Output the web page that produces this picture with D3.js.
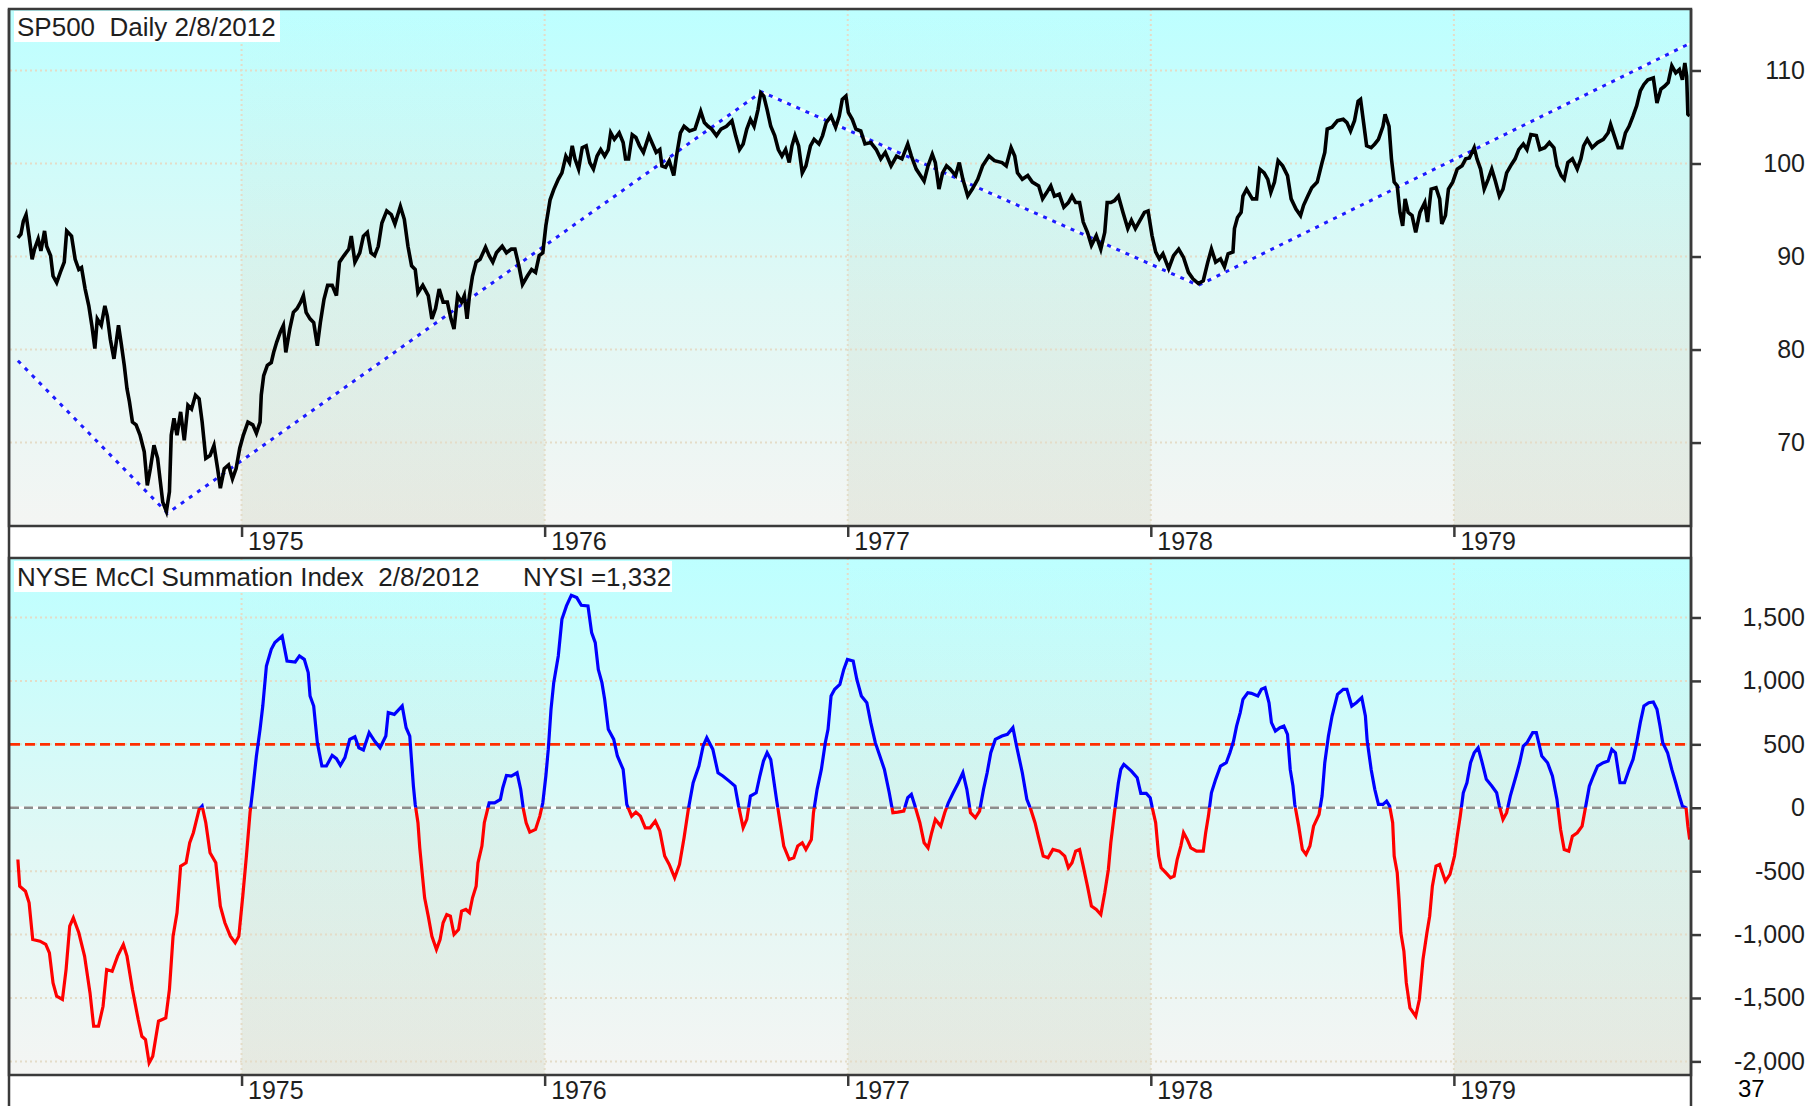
<!DOCTYPE html>
<html>
<head>
<meta charset="utf-8">
<script src="https://cdn.jsdelivr.net/npm/d3@7"></script>
<style>
  body { margin: 0; background: #fff; }
  svg { display: block; font-family: "Liberation Sans", Arial, sans-serif; }
</style>
</head>
<body>
<div id="chart"></div>
<script>
// ---- data (x = decimal year) ----
const yearTicks = [1975, 1976, 1977, 1978, 1979];
const priceTicks = [70, 80, 90, 100, 110];
const nysiTicks = [-2000, -1500, -1000, -500, 0, 500, 1000, 1500];
const shadedYears = [[1975, 1976], [1977, 1978], [1979, 1980]];
const zeroLevel = 0;
const upperLevel = 500;
const priceTitle = "SP500  Daily 2/8/2012";
const nysiTitle = "NYSE McCl Summation Index  2/8/2012";
const nysiReading = "NYSI =1,332";
const pageNumber = "37";

const sp500 = [
  [1974.262, 92.0], [1974.272, 92.4], [1974.280, 93.8], [1974.289, 94.5], [1974.299, 92.2],
  [1974.309, 89.7], [1974.317, 90.8], [1974.329, 91.9], [1974.338, 90.6], [1974.350, 92.75],
  [1974.357, 91.1], [1974.370, 90.1], [1974.378, 87.9], [1974.390, 87.2], [1974.402, 88.3],
  [1974.415, 89.4], [1974.423, 92.75], [1974.439, 92.2], [1974.451, 89.7], [1974.463, 88.6],
  [1974.472, 88.8], [1974.484, 86.5], [1974.496, 84.7], [1974.506, 82.6], [1974.516, 80.1],
  [1974.524, 83.3], [1974.537, 82.6], [1974.549, 84.7], [1974.557, 83.6], [1974.567, 81.1],
  [1974.579, 79.0], [1974.594, 82.6], [1974.604, 80.4], [1974.613, 78.3], [1974.622, 75.8],
  [1974.630, 74.4], [1974.640, 72.2], [1974.652, 71.9], [1974.665, 70.8], [1974.679, 69.0],
  [1974.689, 65.4], [1974.699, 67.2], [1974.711, 69.7], [1974.723, 68.3], [1974.732, 65.8],
  [1974.740, 63.6], [1974.752, 62.6], [1974.762, 64.7], [1974.768, 70.8], [1974.777, 72.6],
  [1974.787, 70.8], [1974.799, 73.3], [1974.811, 70.25], [1974.823, 74.0], [1974.835, 73.6],
  [1974.848, 75.1], [1974.860, 74.7], [1974.870, 72.2], [1974.882, 68.3], [1974.896, 68.6],
  [1974.909, 69.7], [1974.921, 67.2], [1974.930, 65.1], [1974.943, 67.2], [1974.957, 67.6],
  [1974.970, 66.1], [1974.982, 67.2], [1974.994, 69.4], [1975.006, 70.8], [1975.021, 72.2],
  [1975.037, 71.9], [1975.049, 71.0], [1975.061, 72.2], [1975.065, 75.1], [1975.073, 77.2],
  [1975.085, 78.3], [1975.098, 78.6], [1975.106, 79.7], [1975.116, 80.8], [1975.128, 81.9],
  [1975.138, 82.6], [1975.146, 79.7], [1975.159, 82.2], [1975.171, 84.0], [1975.183, 84.4],
  [1975.195, 85.1], [1975.204, 85.8], [1975.213, 84.0], [1975.226, 83.3], [1975.238, 82.9],
  [1975.250, 80.4], [1975.260, 82.9], [1975.272, 85.4], [1975.284, 86.9], [1975.299, 86.9],
  [1975.313, 85.8], [1975.323, 89.4], [1975.338, 90.1], [1975.354, 90.8], [1975.362, 92.2],
  [1975.374, 89.4], [1975.390, 90.4], [1975.402, 92.2], [1975.415, 92.6], [1975.427, 90.4],
  [1975.439, 90.1], [1975.451, 91.1], [1975.463, 93.6], [1975.479, 94.9], [1975.494, 94.5],
  [1975.506, 93.5], [1975.524, 95.4], [1975.537, 94.0], [1975.549, 91.1], [1975.561, 89.0],
  [1975.573, 88.6], [1975.582, 86.1], [1975.598, 86.9], [1975.616, 85.8], [1975.628, 83.3],
  [1975.640, 84.4], [1975.652, 86.5], [1975.665, 85.1], [1975.679, 85.1], [1975.691, 83.3],
  [1975.701, 82.2], [1975.713, 85.8], [1975.726, 85.1], [1975.735, 85.8], [1975.744, 83.3],
  [1975.752, 85.8], [1975.762, 87.9], [1975.774, 89.4], [1975.787, 89.7], [1975.805, 91.0],
  [1975.817, 90.1], [1975.829, 89.4], [1975.841, 90.4], [1975.860, 91.1], [1975.874, 90.4],
  [1975.890, 90.8], [1975.902, 90.8], [1975.915, 89.0], [1975.927, 87.0], [1975.943, 87.9],
  [1975.957, 88.6], [1975.970, 88.3], [1975.982, 90.1], [1975.994, 90.4], [1976.004, 93.3],
  [1976.018, 96.1], [1976.030, 97.2], [1976.045, 98.3], [1976.057, 99.0], [1976.070, 100.8],
  [1976.082, 100.1], [1976.091, 101.9], [1976.100, 100.5], [1976.112, 99.4], [1976.124, 101.7],
  [1976.137, 101.9], [1976.149, 100.1], [1976.161, 99.4], [1976.173, 100.8], [1976.185, 101.5],
  [1976.198, 100.8], [1976.210, 101.5], [1976.218, 103.3], [1976.230, 102.6], [1976.246, 103.3],
  [1976.259, 102.25], [1976.267, 100.5], [1976.277, 100.5], [1976.289, 103.1], [1976.301, 102.8],
  [1976.313, 101.9], [1976.326, 101.2], [1976.344, 103.0], [1976.356, 102.1], [1976.368, 101.2],
  [1976.380, 101.5], [1976.387, 99.75], [1976.399, 99.6], [1976.411, 100.3], [1976.426, 98.7],
  [1976.435, 100.8], [1976.448, 103.3], [1976.460, 104.0], [1976.478, 103.5], [1976.496, 103.7],
  [1976.515, 105.6], [1976.527, 104.4], [1976.539, 104.0], [1976.551, 103.7], [1976.567, 103.0],
  [1976.582, 103.7], [1976.600, 104.0], [1976.618, 104.6], [1976.630, 103.0], [1976.643, 101.5],
  [1976.655, 102.1], [1976.667, 103.7], [1976.679, 104.75], [1976.691, 104.0], [1976.704, 105.8],
  [1976.713, 107.6], [1976.723, 107.25], [1976.734, 105.8], [1976.746, 104.0], [1976.759, 103.0],
  [1976.771, 101.5], [1976.783, 100.8], [1976.795, 101.5], [1976.807, 100.1], [1976.816, 101.9],
  [1976.826, 103.0], [1976.838, 101.9], [1976.850, 99.0], [1976.862, 99.75], [1976.877, 101.9],
  [1976.889, 102.6], [1976.905, 102.1], [1976.917, 103.0], [1976.929, 104.4], [1976.945, 105.1],
  [1976.960, 103.9], [1976.972, 105.1], [1976.982, 106.9], [1976.994, 107.25], [1977.002, 105.5],
  [1977.015, 104.75], [1977.027, 103.7], [1977.043, 103.5], [1977.057, 102.1], [1977.076, 102.25],
  [1977.094, 101.5], [1977.109, 100.5], [1977.124, 101.2], [1977.143, 99.75], [1977.161, 100.8],
  [1977.179, 100.5], [1977.198, 102.1], [1977.210, 100.8], [1977.226, 99.4], [1977.240, 98.7],
  [1977.252, 98.1], [1977.265, 99.75], [1977.279, 101.0], [1977.289, 100.1], [1977.301, 97.25],
  [1977.313, 99.0], [1977.326, 99.75], [1977.338, 99.4], [1977.356, 98.7], [1977.368, 100.1],
  [1977.380, 98.3], [1977.396, 96.5], [1977.411, 97.25], [1977.429, 98.3], [1977.445, 99.75],
  [1977.466, 100.8], [1977.484, 100.3], [1977.509, 100.1], [1977.523, 99.75], [1977.539, 101.7],
  [1977.551, 100.8], [1977.560, 99.0], [1977.576, 98.3], [1977.594, 98.7], [1977.609, 98.0],
  [1977.630, 97.6], [1977.643, 96.2], [1977.657, 96.9], [1977.670, 97.6], [1977.682, 96.5],
  [1977.698, 96.7], [1977.713, 95.3], [1977.728, 95.8], [1977.740, 96.5], [1977.752, 95.8],
  [1977.765, 95.8], [1977.777, 93.7], [1977.791, 92.6], [1977.804, 91.2], [1977.820, 92.25],
  [1977.835, 90.8], [1977.848, 92.6], [1977.856, 95.8], [1977.868, 95.8], [1977.880, 96.0],
  [1977.893, 96.5], [1977.908, 94.75], [1977.924, 93.0], [1977.936, 93.9], [1977.949, 93.0],
  [1977.961, 93.7], [1977.979, 94.75], [1977.991, 94.9], [1978.004, 92.25], [1978.016, 90.5],
  [1978.028, 89.75], [1978.040, 90.3], [1978.059, 88.7], [1978.075, 90.1], [1978.092, 90.8],
  [1978.108, 89.9], [1978.124, 88.3], [1978.139, 87.6], [1978.157, 87.1], [1978.173, 87.4],
  [1978.188, 89.4], [1978.200, 90.8], [1978.214, 89.4], [1978.230, 89.75], [1978.243, 88.9],
  [1978.255, 90.3], [1978.271, 90.5], [1978.276, 93.0], [1978.286, 94.2], [1978.298, 94.75],
  [1978.304, 96.5], [1978.316, 97.25], [1978.335, 96.2], [1978.349, 96.2], [1978.359, 99.4],
  [1978.374, 99.0], [1978.386, 98.3], [1978.396, 96.9], [1978.408, 98.0], [1978.420, 100.3],
  [1978.435, 99.75], [1978.451, 98.7], [1978.463, 96.2], [1978.479, 95.1], [1978.494, 94.4],
  [1978.504, 95.5], [1978.518, 96.5], [1978.531, 97.4], [1978.549, 98.0], [1978.565, 100.1],
  [1978.574, 101.2], [1978.582, 103.7], [1978.598, 103.9], [1978.616, 104.6], [1978.635, 104.75],
  [1978.647, 104.4], [1978.659, 103.5], [1978.672, 104.6], [1978.684, 106.7], [1978.692, 106.9],
  [1978.702, 104.4], [1978.712, 101.9], [1978.727, 101.7], [1978.739, 102.1], [1978.751, 102.6],
  [1978.766, 104.0], [1978.773, 105.3], [1978.786, 104.0], [1978.794, 100.5], [1978.803, 98.0],
  [1978.813, 97.6], [1978.822, 94.75], [1978.831, 93.3], [1978.839, 96.2], [1978.849, 94.75],
  [1978.862, 94.4], [1978.874, 92.6], [1978.888, 94.75], [1978.904, 95.8], [1978.913, 93.7],
  [1978.925, 97.25], [1978.941, 97.4], [1978.953, 96.2], [1978.960, 93.5], [1978.972, 94.4],
  [1978.982, 97.25], [1978.996, 98.0], [1979.011, 99.4], [1979.027, 99.75], [1979.039, 100.5],
  [1979.051, 100.6], [1979.067, 101.7], [1979.076, 100.5], [1979.088, 99.4], [1979.100, 97.25],
  [1979.113, 98.3], [1979.125, 99.4], [1979.137, 98.1], [1979.150, 96.5], [1979.162, 97.25],
  [1979.174, 99.0], [1979.190, 99.9], [1979.202, 100.5], [1979.214, 101.5], [1979.229, 102.1],
  [1979.241, 101.5], [1979.254, 103.1], [1979.272, 103.0], [1979.284, 101.5], [1979.300, 101.7],
  [1979.315, 102.25], [1979.330, 101.7], [1979.340, 99.75], [1979.354, 98.7], [1979.364, 98.3],
  [1979.376, 100.1], [1979.391, 100.5], [1979.407, 99.4], [1979.419, 100.5], [1979.428, 101.9],
  [1979.440, 102.6], [1979.456, 101.7], [1979.474, 102.25], [1979.493, 102.6], [1979.509, 103.3],
  [1979.517, 104.2], [1979.529, 103.0], [1979.542, 101.7], [1979.554, 101.7], [1979.566, 103.3],
  [1979.578, 104.0], [1979.591, 105.1], [1979.603, 106.2], [1979.615, 107.8], [1979.627, 108.5],
  [1979.640, 109.0], [1979.658, 109.2], [1979.670, 106.5], [1979.683, 108.0], [1979.695, 108.3],
  [1979.707, 108.7], [1979.719, 110.5], [1979.732, 109.75], [1979.744, 110.1], [1979.754, 109.0],
  [1979.762, 110.8], [1979.768, 109.4], [1979.772, 105.3], [1979.778, 105.1]
];

const trendLine = [
  [1974.262, 78.8], [1974.756, 62.4], [1976.716, 107.7], [1978.157, 86.9], [1979.778, 112.9]
];

const nysi = [
  [1974.262, -408], [1974.268, -618], [1974.287, -658], [1974.299, -750], [1974.311, -1039],
  [1974.335, -1052], [1974.354, -1078], [1974.366, -1144], [1974.378, -1381], [1974.390, -1486],
  [1974.409, -1512], [1974.421, -1276], [1974.433, -934], [1974.445, -868], [1974.463, -986],
  [1974.482, -1170], [1974.500, -1460], [1974.512, -1723], [1974.528, -1723], [1974.543, -1565],
  [1974.555, -1276], [1974.573, -1289], [1974.591, -1170], [1974.610, -1078], [1974.622, -1170],
  [1974.640, -1433], [1974.659, -1670], [1974.671, -1802], [1974.683, -1828], [1974.695, -2012],
  [1974.707, -1960], [1974.726, -1683], [1974.750, -1657], [1974.762, -1433], [1974.774, -1013],
  [1974.787, -828], [1974.799, -460], [1974.817, -434], [1974.829, -276], [1974.841, -197],
  [1974.860, -13], [1974.870, 13], [1974.882, -118], [1974.896, -355], [1974.915, -434],
  [1974.930, -776], [1974.945, -907], [1974.963, -1013], [1974.979, -1065], [1974.991, -1013],
  [1975.004, -697], [1975.016, -381], [1975.028, -39], [1975.037, 145], [1975.049, 408],
  [1975.061, 618], [1975.070, 802], [1975.082, 1118], [1975.098, 1249], [1975.110, 1302],
  [1975.134, 1354], [1975.150, 1157], [1975.177, 1149], [1975.191, 1197], [1975.207, 1170],
  [1975.220, 1065], [1975.226, 881], [1975.238, 802], [1975.250, 513], [1975.265, 329],
  [1975.280, 329], [1975.299, 413], [1975.313, 387], [1975.326, 334], [1975.341, 395],
  [1975.357, 539], [1975.374, 560], [1975.387, 473], [1975.402, 455], [1975.421, 592],
  [1975.439, 526], [1975.457, 473], [1975.476, 565], [1975.484, 750], [1975.504, 736],
  [1975.518, 771], [1975.530, 802], [1975.543, 631], [1975.555, 565], [1975.567, 171],
  [1975.573, 26], [1975.582, -118], [1975.588, -316], [1975.598, -565], [1975.604, -710],
  [1975.616, -855], [1975.628, -1013], [1975.643, -1118], [1975.655, -1039], [1975.665, -907],
  [1975.677, -842], [1975.689, -855], [1975.701, -999], [1975.716, -960], [1975.726, -815],
  [1975.740, -802], [1975.752, -828], [1975.762, -710], [1975.774, -618], [1975.780, -434],
  [1975.793, -302], [1975.801, -118], [1975.817, 39], [1975.835, 39], [1975.854, 66],
  [1975.862, 158], [1975.874, 255], [1975.890, 250], [1975.909, 276], [1975.921, 145],
  [1975.930, -13], [1975.939, -118], [1975.951, -192], [1975.970, -171], [1975.984, -66],
  [1975.994, 39], [1976.004, 250], [1976.012, 460], [1976.021, 776], [1976.030, 986],
  [1976.045, 1197], [1976.057, 1486], [1976.072, 1591], [1976.088, 1675], [1976.106, 1657],
  [1976.121, 1596], [1976.143, 1591], [1976.155, 1381], [1976.167, 1302], [1976.177, 1091],
  [1976.189, 986], [1976.198, 855], [1976.210, 618], [1976.228, 539], [1976.240, 408],
  [1976.259, 302], [1976.271, 26], [1976.287, -66], [1976.301, -34], [1976.316, -66],
  [1976.332, -158], [1976.348, -158], [1976.365, -105], [1976.380, -184], [1976.396, -381],
  [1976.411, -447], [1976.429, -552], [1976.445, -447], [1976.460, -237], [1976.474, -13],
  [1976.490, 197], [1976.509, 329], [1976.523, 487], [1976.535, 552], [1976.555, 460],
  [1976.572, 276], [1976.588, 250], [1976.609, 210], [1976.628, 171], [1976.640, 13],
  [1976.655, -158], [1976.667, -92], [1976.679, 92], [1976.698, 118], [1976.710, 250],
  [1976.722, 368], [1976.734, 434], [1976.746, 381], [1976.765, 66], [1976.777, -118],
  [1976.789, -302], [1976.807, -408], [1976.822, -395], [1976.835, -302], [1976.850, -276],
  [1976.862, -329], [1976.880, -250], [1976.887, -39], [1976.899, 145], [1976.913, 302],
  [1976.926, 513], [1976.935, 618], [1976.945, 881], [1976.957, 934], [1976.974, 973],
  [1976.987, 1091], [1976.999, 1170], [1977.018, 1157], [1977.030, 1013], [1977.045, 881],
  [1977.063, 828], [1977.076, 671], [1977.091, 513], [1977.106, 408], [1977.121, 302],
  [1977.137, 118], [1977.149, -39], [1977.165, -34], [1977.185, -26], [1977.198, 79],
  [1977.210, 105], [1977.222, 13], [1977.238, -118], [1977.252, -276], [1977.265, -316],
  [1977.277, -197], [1977.289, -92], [1977.307, -145], [1977.320, -39], [1977.332, 39],
  [1977.348, 118], [1977.365, 197], [1977.380, 276], [1977.393, 145], [1977.405, -39],
  [1977.421, -79], [1977.435, -26], [1977.448, 145], [1977.460, 276], [1977.472, 434],
  [1977.487, 539], [1977.509, 565], [1977.527, 579], [1977.545, 631], [1977.557, 487],
  [1977.576, 276], [1977.591, 66], [1977.604, -13], [1977.618, -118], [1977.630, -237],
  [1977.645, -381], [1977.661, -395], [1977.677, -329], [1977.698, -342], [1977.716, -381],
  [1977.728, -473], [1977.740, -434], [1977.752, -342], [1977.765, -329], [1977.777, -460],
  [1977.791, -618], [1977.804, -776], [1977.820, -802], [1977.835, -842], [1977.848, -671],
  [1977.860, -487], [1977.868, -276], [1977.880, -39], [1977.893, 197], [1977.901, 302],
  [1977.911, 342], [1977.936, 289], [1977.955, 237], [1977.967, 113], [1977.985, 113],
  [1977.998, 79], [1978.006, -13], [1978.016, -118], [1978.026, -381], [1978.034, -473],
  [1978.050, -513], [1978.065, -552], [1978.077, -539], [1978.087, -408], [1978.099, -302],
  [1978.108, -197], [1978.120, -250], [1978.132, -316], [1978.151, -342], [1978.173, -342],
  [1978.181, -197], [1978.190, -66], [1978.200, 118], [1978.214, 224], [1978.230, 329],
  [1978.249, 355], [1978.261, 434], [1978.273, 526], [1978.283, 644], [1978.295, 750],
  [1978.304, 855], [1978.320, 907], [1978.332, 902], [1978.353, 881], [1978.365, 934],
  [1978.377, 947], [1978.390, 828], [1978.398, 671], [1978.411, 605], [1978.426, 631],
  [1978.439, 644], [1978.451, 579], [1978.460, 302], [1978.469, 171], [1978.475, 26],
  [1978.488, -145], [1978.500, -329], [1978.512, -368], [1978.525, -302], [1978.537, -145],
  [1978.555, -53], [1978.565, 92], [1978.574, 355], [1978.586, 565], [1978.598, 723],
  [1978.616, 894], [1978.635, 934], [1978.647, 934], [1978.663, 802], [1978.678, 828],
  [1978.696, 868], [1978.708, 723], [1978.714, 526], [1978.727, 302], [1978.739, 145],
  [1978.751, 26], [1978.766, 26], [1978.778, 52], [1978.788, 13], [1978.798, -118],
  [1978.803, -381], [1978.813, -513], [1978.819, -723], [1978.825, -986], [1978.835, -1131],
  [1978.843, -1381], [1978.855, -1578], [1978.874, -1644], [1978.886, -1512], [1978.898, -1197],
  [1978.911, -986], [1978.920, -855], [1978.929, -618], [1978.941, -460], [1978.953, -447],
  [1978.972, -579], [1978.987, -526], [1979.002, -381], [1979.011, -224], [1979.021, -66],
  [1979.031, 118], [1979.043, 197], [1979.055, 355], [1979.067, 434], [1979.080, 473],
  [1979.092, 368], [1979.107, 224], [1979.125, 171], [1979.141, 118], [1979.150, 13],
  [1979.162, -92], [1979.174, -39], [1979.186, 92], [1979.205, 250], [1979.217, 355],
  [1979.229, 487], [1979.241, 513], [1979.260, 592], [1979.272, 592], [1979.290, 408],
  [1979.309, 355], [1979.325, 250], [1979.340, 66], [1979.352, -171], [1979.364, -329],
  [1979.379, -342], [1979.391, -224], [1979.407, -197], [1979.423, -145], [1979.435, 13],
  [1979.447, 171], [1979.460, 250], [1979.474, 329], [1979.493, 355], [1979.509, 368],
  [1979.521, 460], [1979.533, 434], [1979.548, 197], [1979.563, 197], [1979.578, 302],
  [1979.591, 381], [1979.603, 513], [1979.615, 671], [1979.627, 802], [1979.643, 828],
  [1979.658, 834], [1979.670, 776], [1979.680, 644], [1979.689, 513], [1979.705, 434],
  [1979.719, 302], [1979.732, 197], [1979.744, 92], [1979.754, 13], [1979.766, 0],
  [1979.772, -145], [1979.778, -250]
];

// ---- layout ----
const width = 1812, height = 1106;
const plotLeft = 10, plotRight = 1690;
const topPanel = { y0: 9, y1: 526 };
const botPanel = { y0: 558, y1: 1075 };

const svg = d3.select("#chart").append("svg")
    .attr("width", width)
    .attr("height", height);

const defs = svg.append("defs");

const bg = defs.append("linearGradient").attr("id", "bg")
    .attr("x1", 0).attr("y1", 0).attr("x2", 0).attr("y2", 1);
bg.append("stop").attr("offset", "0%").attr("stop-color", "#bdffff");
bg.append("stop").attr("offset", "55%").attr("stop-color", "#e0f8f5");
bg.append("stop").attr("offset", "100%").attr("stop-color", "#f4f5f3");

const band = defs.append("linearGradient").attr("id", "band")
    .attr("x1", 0).attr("y1", 0).attr("x2", 0).attr("y2", 1);
band.append("stop").attr("offset", "0%").attr("stop-color", "#7b8a50").attr("stop-opacity", 0.0);
band.append("stop").attr("offset", "100%").attr("stop-color", "#7b8a50").attr("stop-opacity", 0.11);

const x = d3.scaleLinear()
    .domain([1974.236, 1979.779])
    .range([plotLeft, plotRight]);

const yPrice = d3.scaleLinear()
    .domain([61.03, 116.61])
    .range([topPanel.y1, topPanel.y0]);

const yNysi = d3.scaleLinear()
    .domain([-2107.2, 1969.1])
    .range([botPanel.y1, botPanel.y0]);

const fmt = d3.format(",");
const plainFormat = d => fmt(d).replace("\u2212", "-");

function drawFrame(panel, yScale, ticks, id) {
    const g = svg.append("g");
    g.append("rect")
        .attr("x", plotLeft).attr("y", panel.y0)
        .attr("width", plotRight - plotLeft).attr("height", panel.y1 - panel.y0)
        .attr("fill", "url(#bg)");

    g.selectAll(".band").data(shadedYears).enter().append("rect")
        .attr("x", d => x(d[0]))
        .attr("y", panel.y0)
        .attr("width", d => Math.min(x(d[1]), plotRight) - x(d[0]))
        .attr("height", panel.y1 - panel.y0)
        .attr("fill", "url(#band)");

    // dotted grid
    g.selectAll(".hg").data(ticks).enter().append("line")
        .attr("x1", plotLeft).attr("x2", plotRight)
        .attr("y1", d => yScale(d)).attr("y2", d => yScale(d))
        .attr("stroke", "#e4dcc8").attr("stroke-width", 2)
        .attr("stroke-dasharray", "2,3");
    g.selectAll(".vg").data(yearTicks).enter().append("line")
        .attr("x1", d => x(d)).attr("x2", d => x(d))
        .attr("y1", panel.y0).attr("y2", panel.y1)
        .attr("stroke", "#e4dcc8").attr("stroke-width", 2)
        .attr("stroke-dasharray", "2,3");

    defs.append("clipPath").attr("id", id)
        .append("rect")
        .attr("x", plotLeft).attr("y", panel.y0)
        .attr("width", plotRight - plotLeft).attr("height", panel.y1 - panel.y0);
    return g;
}

function drawAxes(panel, yScale, ticks) {
    const yAxis = d3.axisRight(yScale)
        .tickValues(ticks)
        .tickSize(10)
        .tickFormat(plainFormat);
    const ga = svg.append("g")
        .attr("transform", `translate(${plotRight + 1},0)`)
        .call(yAxis);
    ga.select(".domain").remove();
    ga.selectAll(".tick line").attr("stroke", "#3a3a3a").attr("stroke-width", 2.5);
    ga.selectAll(".tick text")
        .attr("x", 114)
        .attr("text-anchor", "end")
        .attr("fill", "#1e1e1e")
        .style("font-size", "25px");

    const xAxis = d3.axisBottom(x)
        .tickValues(yearTicks)
        .tickSize(11)
        .tickFormat(d3.format("d"));
    const gx = svg.append("g")
        .attr("transform", `translate(0,${panel.y1})`)
        .call(xAxis);
    gx.select(".domain").remove();
    gx.selectAll(".tick line").attr("stroke", "#3a3a3a").attr("stroke-width", 2.5);
    gx.selectAll(".tick text")
        .attr("x", 6)
        .attr("y", 24)
        .attr("dy", null)
        .attr("text-anchor", "start")
        .attr("fill", "#1e1e1e")
        .style("font-size", "25px");
}

function drawBorder(panel) {
    svg.append("rect")
        .attr("x", plotLeft - 1).attr("y", panel.y0)
        .attr("width", plotRight - plotLeft + 2).attr("height", panel.y1 - panel.y0)
        .attr("fill", "none").attr("stroke", "#3a3a3a").attr("stroke-width", 2.5);
}

function labelBox(xPos, yTop, w, texts) {
    svg.append("rect")
        .attr("x", xPos).attr("y", yTop)
        .attr("width", w).attr("height", 31)
        .attr("fill", "#ffffff");
    texts.forEach(t => {
        svg.append("text")
            .attr("x", t.x).attr("y", yTop + 25)
            .attr("fill", "#1e1e1e")
            .attr("xml:space", "preserve")
            .style("white-space", "pre")
            .style("font-size", "26px")
            .text(t.text);
    });
}

// ---- top panel: SP500 ----
drawFrame(topPanel, yPrice, priceTicks, "clipTop");

const priceLine = d3.line().x(d => x(d[0])).y(d => yPrice(d[1]));

const gTop = svg.append("g").attr("clip-path", "url(#clipTop)");
gTop.append("path").datum(trendLine)
    .attr("d", priceLine)
    .attr("fill", "none").attr("stroke", "#ffffff").attr("stroke-width", 2);
gTop.append("path").datum(trendLine)
    .attr("d", priceLine)
    .attr("fill", "none").attr("stroke", "#1c1cff").attr("stroke-width", 3)
    .attr("stroke-dasharray", "4,6");
gTop.append("path").datum(sp500)
    .attr("d", priceLine)
    .attr("fill", "none").attr("stroke", "#000000").attr("stroke-width", 3.6)
    .attr("stroke-linejoin", "miter");

drawBorder(topPanel);
drawAxes(topPanel, yPrice, priceTicks);
labelBox(14, 11, 266, [{ x: 17, text: priceTitle }]);

// ---- bottom panel: NYSI ----
drawFrame(botPanel, yNysi, nysiTicks, "clipBot");

defs.append("clipPath").attr("id", "clipPos").append("rect")
    .attr("x", plotLeft).attr("y", botPanel.y0)
    .attr("width", plotRight - plotLeft).attr("height", yNysi(zeroLevel) - botPanel.y0);
defs.append("clipPath").attr("id", "clipNeg").append("rect")
    .attr("x", plotLeft).attr("y", yNysi(zeroLevel))
    .attr("width", plotRight - plotLeft).attr("height", botPanel.y1 - yNysi(zeroLevel));

const gBot = svg.append("g").attr("clip-path", "url(#clipBot)");
gBot.append("line")
    .attr("x1", plotLeft).attr("x2", plotRight)
    .attr("y1", yNysi(zeroLevel)).attr("y2", yNysi(zeroLevel))
    .attr("stroke", "#ffffff").attr("stroke-width", 2.5);
gBot.append("line")
    .attr("x1", plotLeft).attr("x2", plotRight)
    .attr("y1", yNysi(zeroLevel)).attr("y2", yNysi(zeroLevel))
    .attr("stroke", "#8c8c8c").attr("stroke-width", 2.5)
    .attr("stroke-dasharray", "9,5");
gBot.append("line")
    .attr("x1", plotLeft).attr("x2", plotRight)
    .attr("y1", yNysi(upperLevel)).attr("y2", yNysi(upperLevel))
    .attr("stroke", "#ff2e00").attr("stroke-width", 2.8)
    .attr("stroke-dasharray", "10,5");

const nysiLine = d3.line().x(d => x(d[0])).y(d => yNysi(d[1]));
gBot.append("path").datum(nysi)
    .attr("clip-path", "url(#clipPos)")
    .attr("d", nysiLine)
    .attr("fill", "none").attr("stroke", "#0000ff").attr("stroke-width", 3.2);
gBot.append("path").datum(nysi)
    .attr("clip-path", "url(#clipNeg)")
    .attr("d", nysiLine)
    .attr("fill", "none").attr("stroke", "#ff0000").attr("stroke-width", 3.2);

drawBorder(botPanel);
drawAxes(botPanel, yNysi, nysiTicks);
labelBox(14, 561, 658, [{ x: 17, text: nysiTitle }, { x: 523, text: nysiReading }]);

// outer vertical borders running through the year strips
[plotLeft - 1, plotRight + 1].forEach(xx => {
    svg.append("line")
        .attr("x1", xx).attr("x2", xx)
        .attr("y1", topPanel.y0).attr("y2", height)
        .attr("stroke", "#3a3a3a").attr("stroke-width", 2.5);
});

// page number at the bottom right corner
svg.append("text")
    .attr("x", 1738).attr("y", 1097)
    .attr("fill", "#000")
    .style("font-size", "24px")
    .text(pageNumber);
</script>
</body>
</html>
